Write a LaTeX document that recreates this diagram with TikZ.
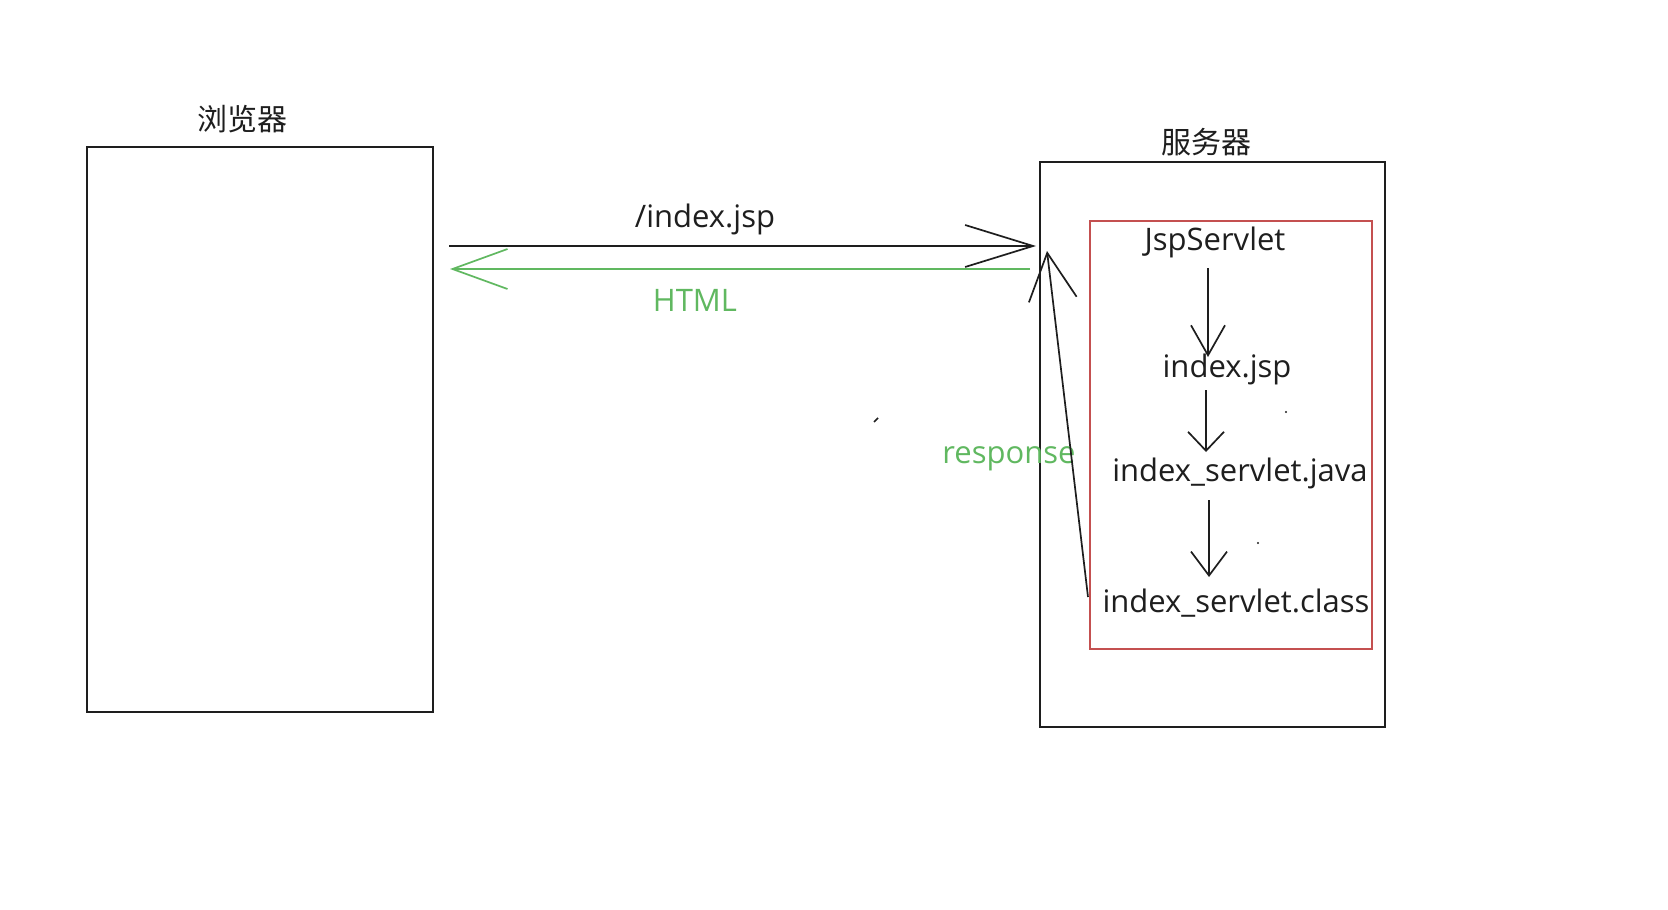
\documentclass[tikz,border=0pt]{standalone}
\usepackage{fontspec}
\setmainfont{Open Sans}
\newfontfamily\cjk{Noto Sans CJK SC}
\usetikzlibrary{arrows.meta}
\definecolor{grn}{RGB}{96,184,96}
\definecolor{rbox}{RGB}{196,80,80}
\definecolor{ink}{RGB}{30,30,30}
\begin{document}
\begin{tikzpicture}[x=1pt,y=-1pt,
  box/.style={draw=ink, line width=2.4pt, inner sep=0pt, fill=none},
  redbox/.style={draw=rbox, line width=2pt, inner sep=0pt},
  lbl/.style={font=\fontsize{31}{34}\selectfont, text=ink, inner sep=0pt},
  glbl/.style={font=\fontsize{31}{34}\selectfont, text=grn, inner sep=0pt},
  clbl/.style={font=\cjk\fontsize{30}{32}\selectfont, text=ink, inner sep=0pt},
  conn/.style={draw=ink, line width=1.7pt},
  gconn/.style={draw=grn, line width=1.7pt}]
\useasboundingbox (0,0) rectangle (1668,910);
\fill[white] (0,0) rectangle (1668,910);

% boxes
\node[box, minimum width=346pt, minimum height=565pt] (browser) at (260,429.5) {};
\node[box, minimum width=345pt, minimum height=565pt] (server) at (1212.5,444.5) {};
\node[redbox, minimum width=282pt, minimum height=428pt] (jsp) at (1231,435) {};

% titles
\node[clbl] (tbrowser) at (242,119) {浏览器};
\node[clbl] (tserver) at (1206,142) {服务器};

% labels
\node[lbl] (lreq) at (705,219) {/index.jsp};
\node[glbl] (lhtml) at (695,300) {HTML};
\node[glbl] (lresp) at (1009,459) {response};

\node[lbl] (n1) at (1215,242) {JspServlet};
\node[lbl] (n2) at (1227,369) {index.jsp};
\node[lbl] (n3) at (1240,473) {index\_servlet.java};
\node[lbl] (n4) at (1236,603) {index\_servlet.class};

% connector end points
\coordinate (reqA) at (449,246);
\coordinate (reqB) at (1036,246);
\coordinate (htmlA) at (1030,269);
\coordinate (htmlB) at (450,269);
\coordinate (respA) at (1088,597);
\coordinate (respB) at (1047,251);
\coordinate (a1s) at (1208,268);
\coordinate (a1e) at (1208,357);
\coordinate (a2s) at (1206,390);
\coordinate (a2e) at (1206,452);
\coordinate (a3s) at (1209,500);
\coordinate (a3e) at (1209,577);

\draw[conn, -{Straight Barb[length=68pt,width=42pt]}] (reqA) -- (reqB);
\draw[gconn, -{Straight Barb[length=55pt,width=40pt]}] (htmlA) -- (htmlB);
\draw[conn, -{Straight Barb[length=47pt,width=48pt]}] (respA) -- (respB);
\draw[conn, -{Straight Barb[length=30pt,width=34pt]}] (a1s) -- (a1e);
\draw[conn, -{Straight Barb[length=19pt,width=36pt]}] (a2s) -- (a2e);
\draw[conn, -{Straight Barb[length=24pt,width=36pt]}] (a3s) -- (a3e);

% stray marks
\draw[ink, line width=1.5pt] (874,422) -- (878,418);
\fill[ink] (1286,412) circle (1.2pt);
\fill[ink] (1258,543) circle (1.2pt);
\end{tikzpicture}
\end{document}
